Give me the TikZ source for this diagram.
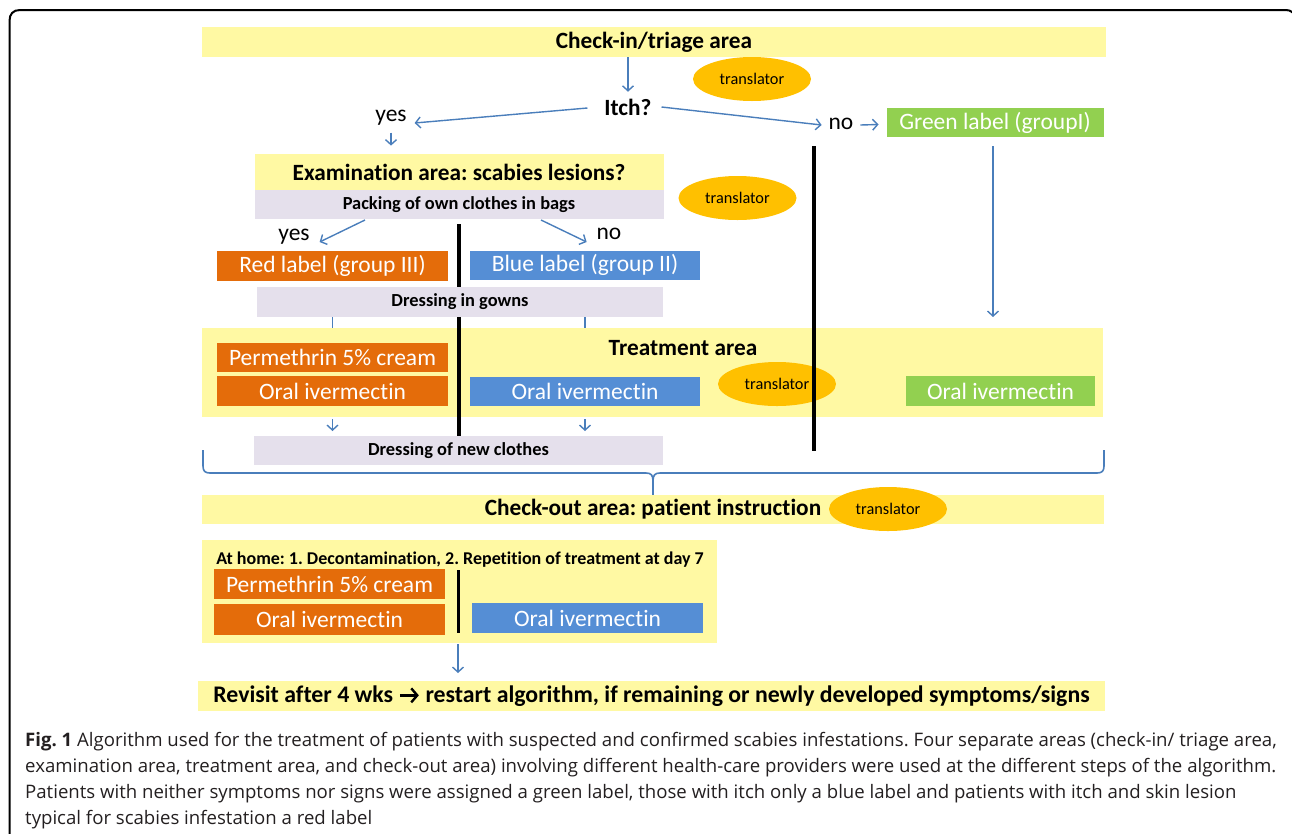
\documentclass[tikz,border=0pt]{standalone}
\usepackage{fontspec}
\setmainfont{Carlito}[Ligatures={NoCommon}]
\newfontfamily\capfont{Open Sans}
\usetikzlibrary{shapes.geometric,arrows.meta,calc}
\frenchspacing
\definecolor{areayellow}{HTML}{FFF9A3}
\definecolor{lav}{HTML}{E5E0EC}
\definecolor{redlab}{HTML}{E46C0A}
\definecolor{bluelab}{HTML}{558ED5}
\definecolor{greenlab}{HTML}{92D050}
\definecolor{transor}{HTML}{FFC000}
\definecolor{arrblue}{HTML}{4A7EBB}
\definecolor{captext}{HTML}{231F20}
\newcommand{\boldarrow}{\tikz[baseline=0pt,x=1pt,y=1pt]\draw[line width=2.6pt,-{Straight Barb[length=6pt,width=14pt,line width=2.4pt]}] (0,7) -- (19,7);}
\tikzset{
  area/.style={fill=areayellow, draw=none, inner sep=0pt, outer sep=0pt, font=\bfseries\fontsize{23.3}{26}\selectfont},
  lavbox/.style={fill=lav, draw=none, inner sep=0pt, outer sep=0pt, font=\bfseries\fontsize{18.4}{21}\selectfont},
  lab/.style={draw=none, inner sep=0pt, outer sep=0pt, text=white, font=\fontsize{23.5}{26}\selectfont},
  redbox/.style={lab, fill=redlab, minimum width=231pt, minimum height=30pt},
  bluebox/.style={lab, fill=bluelab, minimum width=230pt, minimum height=29pt},
  greenbox/.style={lab, fill=greenlab},
  trans/.style={ellipse, fill=transor, draw=none, minimum width=118pt, minimum height=44pt, inner sep=0pt, font=\fontsize{16.3}{18}\selectfont},
  plain/.style={inner sep=0pt, outer sep=0pt, font=\fontsize{23.5}{26}\selectfont},
  arr/.style={draw=arrblue, line width=1.4pt, -{Straight Barb[length=5pt,width=11pt,line width=1.4pt]}},
  conn/.style={draw=arrblue, line width=1.4pt},
  divider/.style={draw=black, line width=4pt},
  capline/.style={anchor=base west, inner sep=0pt, text=captext, font=\capfont\fontsize{18.6}{21}\selectfont}
}
\begin{document}
\begin{tikzpicture}[x=1pt,y=-1pt]
\useasboundingbox (0,0) rectangle (1292,833);
% frame
\draw[line width=2pt] (9.5,840) -- (9.5,21) .. controls (9.5,14) and (13,10) .. (20,10) -- (1286,10) .. controls (1291,10) and (1294,13) .. (1296,18);

% check-in
\node[area, minimum width=904pt, minimum height=30pt] (checkin) at (654,42) {Check-in/triage area};
\node[trans] (tr1) at (752,79) {translator};
\node[plain, font=\bfseries\fontsize{23.3}{26}\selectfont] (itch) at (628,107) {Itch?};
\node[plain] (yes1) at (391,118) {yes};
\node[plain] (no1) at (841,124) {no};
\node[greenbox, minimum width=217pt, minimum height=29pt] (green) at (995,122.5) {Green label (groupI)};

\draw[arr] (checkin.south -| itch.north) -- ($(itch.north)+(0,-7)$);
\draw[arr] ($(itch.west)+(-17,1)$) -- ($(yes1.east)+(8,5)$);
\draw[arr] ($(itch.east)+(10,0)$) -- ($(no1.west)+(-7,1)$);
\draw[arr] ($(no1.east)+(7,1)$) -- ($(green.west)+(-8,2)$);
\draw[arr] ($(yes1.south)+(0,7)$) -- ($(yes1.south)+(0,20)$);

% examination
\node[area, minimum width=409pt, minimum height=36pt] (exam) at (459,172) {Examination area: scabies lesions?};
\node[lavbox, minimum width=409pt, minimum height=29pt] (pack) at (459,204.5) {Packing of own clothes in bags};
\node[trans] (tr2) at (737.5,198) {translator};
\node[plain] (yes2) at (294,237) {yes};
\node[plain] (no2) at (609,234) {no};
\draw[arr] ($(pack.south)+(-94,1)$) -- ($(yes2.east)+(10,5)$);
\draw[arr] ($(pack.south)+(82,1)$) -- ($(no2.west)+(-10,8)$);

\node[redbox] (red) at (332.5,266) {Red label (group III)};
\node[bluebox] (blue) at (585,265) {Blue label (group II)};

% treatment area
\node[area, minimum width=901pt, minimum height=89pt] (treat) at (652.5,372.5) {};
\node[plain, font=\bfseries\fontsize{23.3}{26}\selectfont] (treattxt) at (683,348) {Treatment area};
\node[redbox, minimum height=29pt] (perm1) at (332.5,357.5) {Permethrin 5\% cream};
\node[redbox] (oral1) at (332.5,391) {Oral ivermectin};
\node[bluebox] (oral2) at (585,391.5) {Oral ivermectin};
\node[greenbox, minimum width=189pt, minimum height=30pt] (oral3) at (1000.5,391) {Oral ivermectin};

% dividers
\coordinate (d1top) at (459,224);
\coordinate (d1bot) at (459,436);
\draw[divider] (d1top) -- (d1bot);
\coordinate (d2top) at (814,146);
\coordinate (d2bot) at (814,451);
\draw[divider] (d2top) -- (d2bot);

\node[trans] (tr3) at (777,384) {translator};
\draw[divider] ($(d2top)+(0,200)$) -- (d2bot);

\node[lavbox, minimum width=406pt, minimum height=30pt] (gowns) at (460,302) {Dressing in gowns};
\draw[conn] (red.south |- gowns.south) -- (red.south |- treat.north);
\draw[conn] (blue.south |- gowns.south) -- (blue.south |- treat.north);

\draw[arr] ($(green.south)+(-2,9)$) -- ($(green.south |- treat.north)+(-2,-11)$);

\node[lavbox, minimum width=409pt, minimum height=29pt] (newcl) at (458.5,450.5) {Dressing of new clothes};
\draw[arr] ($(oral1.south |- treat.south)+(0,2)$) -- ($(oral1.south |- newcl.north)+(0,-5)$);
\draw[arr] ($(oral2.south |- treat.south)+(0,2)$) -- ($(oral2.south |- newcl.north)+(0,-5)$);

% brace
\draw[conn, line width=1.6pt] (203,450) -- (203,466) .. controls (203,471) and (205,473) .. (210,473) -- (646,473) .. controls (651,473) and (653,475) .. (653,481) -- (653,495);
\draw[conn, line width=1.6pt] (653,481) .. controls (653,475) and (655,473) .. (660,473) -- (1097,473) .. controls (1102,473) and (1104,471) .. (1104,466) -- (1104,450);

% check-out
\node[area, minimum width=902pt, minimum height=29pt] (checkout) at (653,509.5) {Check-out area: patient instruction};
\node[trans] (tr4) at (888,509) {translator};

% at home
\node[area, minimum width=515pt, minimum height=103pt] (home) at (459.5,591.5) {};
\node[plain, font=\bfseries\fontsize{18}{21}\selectfont] (hometxt) at (460,560) {At home: 1. Decontamination, 2. Repetition of treatment at day 7};
\node[redbox] (perm2) at (329.5,584) {Permethrin 5\% cream};
\node[redbox, minimum height=31pt] (oral4) at (329.5,619.5) {Oral ivermectin};
\node[bluebox, minimum width=231pt, minimum height=30pt] (oral5) at (587.5,618) {Oral ivermectin};
\coordinate (d3top) at (458,570);
\coordinate (d3bot) at (458,633);
\draw[divider, line width=3pt] (d3top) -- (d3bot);

% revisit
\node[area, minimum width=907pt, minimum height=30pt, font=\bfseries\fontsize{23.8}{26}\selectfont] (revisit) at (651.5,696) {Revisit after 4 wks \boldarrow{} restart algorithm, if remaining or newly developed symptoms/signs};
\draw[arr] ($(d3top |- home.south)+(0,1)$) -- ($(d3top |- revisit.north)+(0,-8)$);

% caption
\node[capline] (cap1) at (25,746) {\textbf{Fig. 1} Algorithm used for the treatment of patients with suspected and confirmed scabies infestations. Four separate areas (check-in/ triage area,};
\node[capline] (cap2) at (25,772) {examination area, treatment area, and check-out area) involving different health-care providers were used at the different steps of the algorithm.};
\node[capline] (cap3) at (25,798) {Patients with neither symptoms nor signs were assigned a green label, those with itch only a blue label and patients with itch and skin lesion};
\node[capline] (cap4) at (25,824) {typical for scabies infestation a red label};
\end{tikzpicture}
\end{document}
